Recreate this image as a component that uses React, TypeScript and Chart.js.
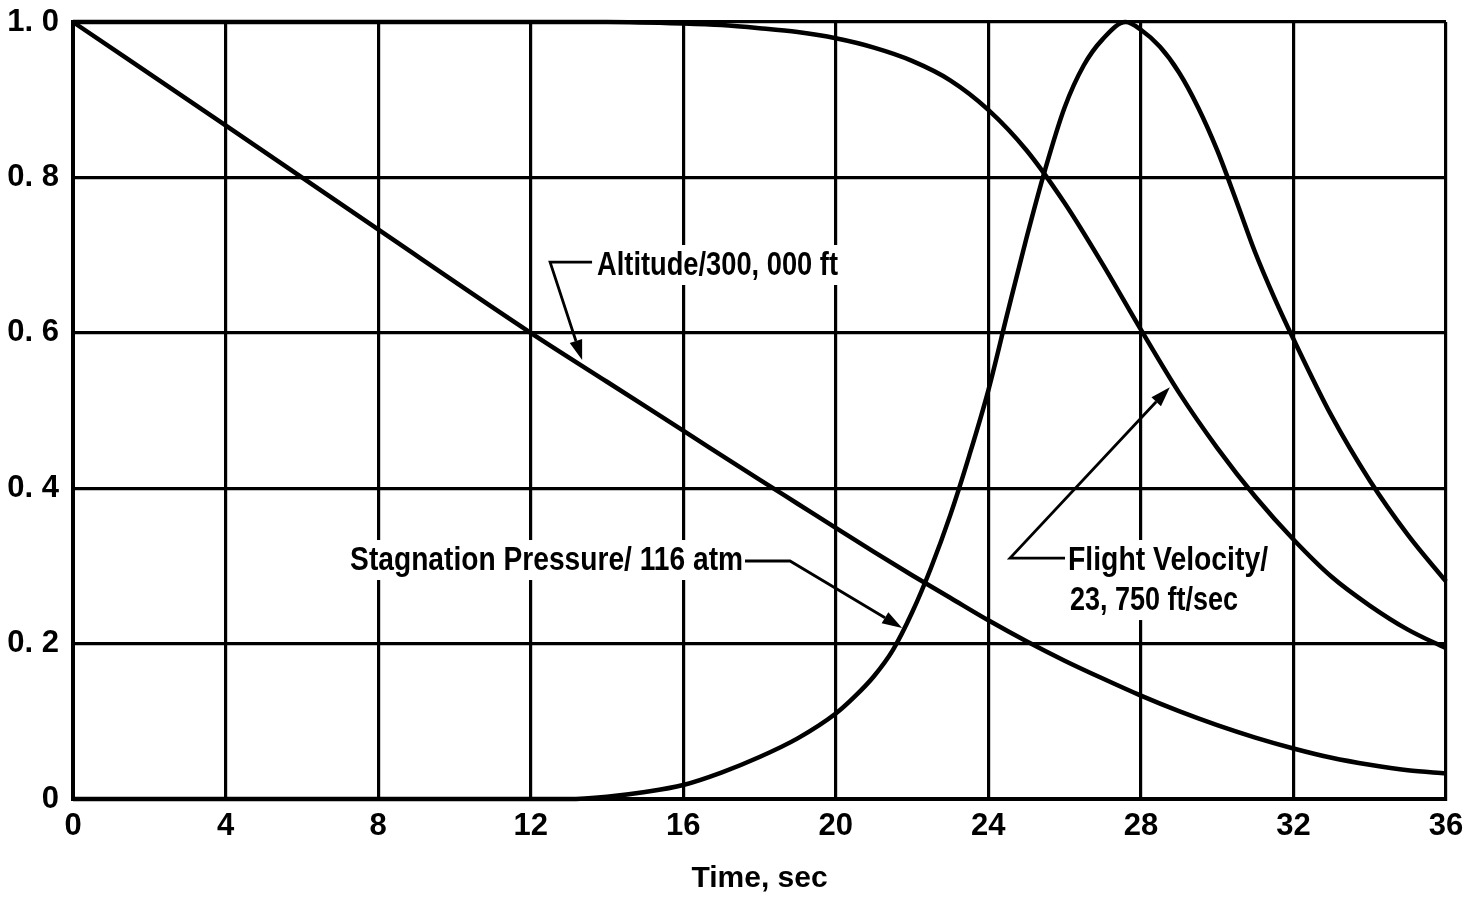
import React, { useEffect, useRef } from "react";
import { Chart, registerables } from "chart.js";

Chart.register(...registerables);

// ---------- data ----------
const xTicks = [0, 4, 8, 12, 16, 20, 24, 28, 32, 36];
const yTicks = [0, 0.2, 0.4, 0.6, 0.8, 1.0];
const yTickLabels = ["0", "0. 2", "0. 4", "0. 6", "0. 8", "1. 0"];

const altitudeTime = [0, 4, 8, 12, 14, 16, 18, 19, 20, 21, 22, 23, 24, 25, 26, 27, 28, 29, 30, 31, 32, 33, 34, 35, 36];
const altitudeValue = [1.0, 0.867, 0.733, 0.6, 0.537, 0.474, 0.411, 0.38, 0.349, 0.318, 0.288, 0.259, 0.23, 0.203, 0.178, 0.155, 0.133, 0.113, 0.095, 0.079, 0.065, 0.053, 0.044, 0.037, 0.033];

const velocityTime = [0, 4, 8, 12, 14, 16, 17, 18, 19, 20, 21, 22, 23, 24, 25, 26, 27, 28, 29, 30, 31, 32, 33, 34, 35, 36];
const velocityValue = [1.0, 1.0, 1.0, 1.0, 1.0, 0.998, 0.996, 0.992, 0.987, 0.979, 0.967, 0.95, 0.925, 0.887, 0.835, 0.767, 0.688, 0.604, 0.523, 0.452, 0.389, 0.334, 0.286, 0.249, 0.218, 0.194];

const pressureTime = [0, 4, 8, 12, 13, 14, 15, 16, 17, 18, 19, 20, 20.5, 21, 21.5, 22, 22.5, 23, 23.5, 24, 24.5, 25, 25.5, 26, 26.5, 27, 27.6, 28, 28.5, 29, 29.5, 30, 30.5, 31, 31.5, 32, 33, 34, 35, 36];
const pressureValue = [0, 0, 0, 0, 0, 0.003, 0.009, 0.018, 0.034, 0.054, 0.078, 0.11, 0.132, 0.158, 0.192, 0.24, 0.298, 0.365, 0.442, 0.526, 0.625, 0.722, 0.812, 0.89, 0.944, 0.978, 1.0, 0.99, 0.968, 0.935, 0.89, 0.835, 0.77, 0.703, 0.645, 0.592, 0.493, 0.41, 0.34, 0.28];

const xTitle = "Time, sec";
const altitudeLabel = "Altitude/300, 000 ft";
const pressureLabel = "Stagnation Pressure/ 116 atm";
const velocityLabel = ["Flight Velocity/", "23, 750 ft/sec"];

// annotation anchors in data units [time, value]
const altitudeText = [13.74, 0.6744];
const altitudeLeader = [[13.61, 0.691], [12.51, 0.691], [13.35, 0.565]];
const pressureTextEnd = [17.57, 0.2947];
const pressureLeader = [[17.62, 0.3063], [18.8, 0.3063], [21.74, 0.22]];
const velocityText = [26.09, 0.2947, 0.2432];
const velocityLeader = [[26.01, 0.31], [24.57, 0.31], [28.76, 0.53]];

const FONT = '"Liberation Sans", Arial, sans-serif';

function toPts(t: number[], v: number[]) {
  return t.map((x, i) => ({ x, y: v[i] }));
}

function drawFittedText(ctx: CanvasRenderingContext2D, text: string, x: number, y: number, width: number, alignRight = false) {
  ctx.save();
  ctx.font = `bold 34px ${FONT}`;
  ctx.textBaseline = "alphabetic";
  ctx.textAlign = "left";
  const natural = ctx.measureText(text).width;
  const sx = width / natural;
  const left = alignRight ? x - width : x;
  ctx.fillStyle = "#fff";
  ctx.fillRect(left - 4, y - 30, width + 8, 40);
  ctx.translate(left, y);
  ctx.scale(sx, 1);
  ctx.fillStyle = "#000";
  ctx.fillText(text, 0, 0);
  ctx.restore();
}

function drawLeader(ctx: CanvasRenderingContext2D, pts: number[][]) {
  const n = pts.length;
  const tip = pts[n - 1];
  const prev = pts[n - 2];
  const dx = tip[0] - prev[0];
  const dy = tip[1] - prev[1];
  const len = Math.hypot(dx, dy);
  const ux = dx / len;
  const uy = dy / len;
  const headLen = 20;
  const headW = 6.5;
  const bx = tip[0] - ux * headLen;
  const by = tip[1] - uy * headLen;
  ctx.save();
  ctx.strokeStyle = "#000";
  ctx.lineWidth = 2.8;
  ctx.lineJoin = "miter";
  ctx.beginPath();
  ctx.moveTo(pts[0][0], pts[0][1]);
  for (let i = 1; i < n - 1; i++) ctx.lineTo(pts[i][0], pts[i][1]);
  ctx.lineTo(bx, by);
  ctx.stroke();
  ctx.fillStyle = "#000";
  ctx.beginPath();
  ctx.moveTo(tip[0], tip[1]);
  ctx.lineTo(bx - uy * headW, by + ux * headW);
  ctx.lineTo(bx + uy * headW, by - ux * headW);
  ctx.closePath();
  ctx.fill();
  ctx.restore();
}

const annotationPlugin = {
  id: "annotations",
  beforeDatasetsDraw(chart: any) {
    const { ctx, scales } = chart;
    const px = (t: number) => scales.x.getPixelForValue(t);
    const py = (v: number) => scales.y.getPixelForValue(v);
    drawFittedText(ctx, altitudeLabel, px(altitudeText[0]), py(altitudeText[1]), 241);
    drawFittedText(ctx, pressureLabel, px(pressureTextEnd[0]), py(pressureTextEnd[1]), 393, true);
    drawFittedText(ctx, velocityLabel[0], px(velocityText[0]), py(velocityText[1]), 200);
    drawFittedText(ctx, velocityLabel[1], px(velocityText[0]) + 2, py(velocityText[2]), 168);
  },
  afterDatasetsDraw(chart: any) {
    const { ctx, scales } = chart;
    const conv = (pts: number[][]) => pts.map((p) => [scales.x.getPixelForValue(p[0]), scales.y.getPixelForValue(p[1])]);
    drawLeader(ctx, conv(altitudeLeader));
    drawLeader(ctx, conv(pressureLeader));
    drawLeader(ctx, conv(velocityLeader));
  },
};

export default function App() {
  const ref = useRef<HTMLCanvasElement | null>(null);
  useEffect(() => {
    if (!ref.current) return;
    const lineStyle = {
      borderColor: "#000",
      borderWidth: 4.5,
      pointRadius: 0,
      fill: false,
      cubicInterpolationMode: "monotone" as const,
      clip: false as any,
    };
    const chart = new Chart(ref.current, {
      type: "line",
      data: {
        datasets: [
          { label: "Altitude/300,000 ft", data: toPts(altitudeTime, altitudeValue), ...lineStyle },
          { label: "Flight Velocity/23,750 ft/sec", data: toPts(velocityTime, velocityValue), ...lineStyle },
          { label: "Stagnation Pressure/116 atm", data: toPts(pressureTime, pressureValue), ...lineStyle },
        ],
      },
      options: {
        animation: false,
        responsive: true,
        maintainAspectRatio: false,
        layout: { padding: { top: 22, right: 24, left: 0, bottom: 0 } },
        plugins: { legend: { display: false }, tooltip: { enabled: false } },
        scales: {
          x: {
            type: "linear",
            min: 0,
            max: 36,
            afterBuildTicks: (s: any) => {
              s.ticks = xTicks.map((value) => ({ value }));
            },
            afterFit: (s: any) => {
              s.height = 98;
              s.paddingLeft = 0;
              s.paddingRight = 0;
            },
            grid: { color: "#000", lineWidth: 3.2, drawTicks: false },
            border: { color: "#000", width: 4 },
            ticks: {
              color: "#000",
              padding: 9,
              maxRotation: 0,
              font: { family: FONT, size: 31, weight: "bold" },
            },
            title: {
              display: true,
              text: xTitle,
              color: "#000",
              padding: 0,
              font: { family: FONT, size: 30, weight: "bold" },
            },
          },
          y: {
            type: "linear",
            min: 0,
            max: 1,
            afterBuildTicks: (s: any) => {
              s.ticks = yTicks.map((value) => ({ value }));
            },
            afterFit: (s: any) => {
              s.width = 73;
              s.paddingTop = 0;
              s.paddingBottom = 0;
            },
            grid: { color: "#000", lineWidth: 3.2, drawTicks: false },
            border: { color: "#000", width: 4 },
            ticks: {
              color: "#000",
              padding: 14,
              font: { family: FONT, size: 31, weight: "bold" },
              callback: (v: any) => {
                const i = yTicks.findIndex((t) => Math.abs(t - Number(v)) < 1e-6);
                return i >= 0 ? yTickLabels[i] : "";
              },
            },
          },
        },
      },
      plugins: [annotationPlugin],
    });
    return () => chart.destroy();
  }, []);
  return (
    <div style={{ position: "absolute", left: 0, top: 0, width: 1470, height: 897, background: "#fff" }}>
      <canvas ref={ref} />
    </div>
  );
}
